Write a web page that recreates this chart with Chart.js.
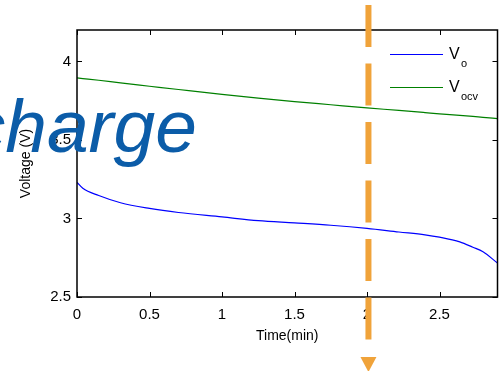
<!DOCTYPE html>
<html>
<head>
<meta charset="utf-8">
<script src="https://cdn.jsdelivr.net/npm/chart.js@4.4.1/dist/chart.umd.min.js"></script>
<style>
  html, body { margin: 0; padding: 0; background: #fff; }
  #wrap { width: 502px; height: 371px; position: relative; }
</style>
</head>
<body>
<div id="wrap"><canvas id="voltChart"></canvas></div>
<script>
// data
const timeMin = [0, 0.04, 0.15, 0.3, 0.5, 0.7, 1, 1.25, 1.5, 1.75, 2, 2.22, 2.4, 2.5, 2.64, 2.73, 2.8, 2.9];
const voltO   = [3.23, 3.192, 3.146, 3.1, 3.064, 3.038, 3.01, 2.986, 2.972, 2.957, 2.937, 2.914, 2.896, 2.881, 2.851, 2.817, 2.788, 2.716];
const voltOcv = [3.895, 3.891, 3.88, 3.863, 3.842, 3.821, 3.79, 3.766, 3.744, 3.724, 3.704, 3.688, 3.674, 3.666, 3.657, 3.65, 3.644, 3.636];
const xTicks = [0, 0.5, 1, 1.5, 2, 2.5];
const yTicks = [2.5, 3, 3.5, 4];

const toPoints = (ys) => timeMin.map((t, i) => ({ x: t, y: ys[i] }));

// box, inward ticks, legend, overlay text and arrow
const extras = {
  id: 'extras',
  afterDraw(chart) {
    const c = chart.ctx;
    const a = chart.chartArea;
    const xs = chart.scales.x, ys = chart.scales.y;
    c.save();
    c.strokeStyle = '#000';
    c.lineWidth = 1.5;
    c.strokeRect(a.left, a.top, a.right - a.left, a.bottom - a.top);
    c.lineWidth = 1;
    c.beginPath();
    xTicks.forEach(v => {
      const px = Math.round(xs.getPixelForValue(v)) + 0.5;
      c.moveTo(px, a.bottom); c.lineTo(px, a.bottom - 5);
      c.moveTo(px, a.top); c.lineTo(px, a.top + 5);
    });
    yTicks.forEach(v => {
      const py = Math.round(ys.getPixelForValue(v)) + 0.5;
      c.moveTo(a.left, py); c.lineTo(a.left + 5, py);
      c.moveTo(a.right, py); c.lineTo(a.right - 5, py);
    });
    c.stroke();

    // legend
    const items = [
      { color: '#0000ff', sub: 'o', y: 54 },
      { color: '#008000', sub: 'ocv', y: 87 }
    ];
    items.forEach(it => {
      c.strokeStyle = it.color;
      c.lineWidth = 1;
      c.beginPath();
      c.moveTo(390, it.y + 0.5); c.lineTo(443, it.y + 0.5);
      c.stroke();
      c.fillStyle = '#000';
      c.textBaseline = 'alphabetic';
      c.textAlign = 'left';
      c.font = '16px "Liberation Sans", Arial, sans-serif';
      c.fillText('V', 449, it.y + 5);
      c.font = '11px "Liberation Sans", Arial, sans-serif';
      c.fillText(it.sub, 461, it.y + 13);
    });

    // big overlay word
    c.fillStyle = '#0b5ca8';
    c.font = 'italic 75px "Liberation Sans", Arial, sans-serif';
    c.textAlign = 'right';
    c.fillText('charge', 197, 152);

    // orange dashed arrow
    const ax = xs.getPixelForValue(2.01);
    c.strokeStyle = '#f0a33a';
    c.lineWidth = 6;
    c.setLineDash([42, 16.5]);
    c.beginPath();
    c.moveTo(ax, 5); c.lineTo(ax, 341);
    c.stroke();
    c.setLineDash([]);
    c.fillStyle = '#f0a33a';
    c.beginPath();
    c.moveTo(ax - 8, 357); c.lineTo(ax + 8, 357); c.lineTo(ax, 372);
    c.closePath();
    c.fill();
    c.restore();
  }
};

const ctx = document.getElementById('voltChart').getContext('2d');
new Chart(ctx, {
  type: 'scatter',
  data: {
    datasets: [
      {
        label: 'Vo',
        data: toPoints(voltO),
        showLine: true,
        borderColor: '#0000ff',
        borderWidth: 1.2,
        pointRadius: 0,
        cubicInterpolationMode: 'monotone'
      },
      {
        label: 'Vocv',
        data: toPoints(voltOcv),
        showLine: true,
        borderColor: '#008000',
        borderWidth: 1.2,
        pointRadius: 0,
        cubicInterpolationMode: 'monotone'
      }
    ]
  },
  options: {
    responsive: true,
    maintainAspectRatio: false,
    animation: false,
    layout: { padding: { top: 30, right: 4.5, left: 0, bottom: 26 } },
    plugins: { legend: { display: false }, tooltip: { enabled: false } },
    scales: {
      x: {
        type: 'linear',
        min: 0,
        max: 2.9,
        afterBuildTicks: (s) => { s.ticks = xTicks.map(v => ({ value: v })); },
        afterFit: (s) => { s.height = 48; },
        grid: { display: true, drawOnChartArea: false, drawTicks: false },
        border: { display: false },
        ticks: {
          padding: 9,
          color: '#000',
          maxRotation: 0,
          callback: (v) => String(v),
          font: { size: 15, family: '"Liberation Sans", Arial, sans-serif' }
        },
        title: {
          display: true,
          text: 'Time(min)',
          color: '#000',
          padding: { top: 4, bottom: 0 },
          font: { size: 14, family: '"Liberation Sans", Arial, sans-serif' }
        }
      },
      y: {
        min: 2.5,
        max: 4.2,
        afterBuildTicks: (s) => { s.ticks = yTicks.map(v => ({ value: v })); },
        afterFit: (s) => { s.width = 77; },
        grid: { display: true, drawOnChartArea: false, drawTicks: false },
        border: { display: false },
        ticks: {
          padding: 6,
          color: '#000',
          callback: (v) => String(v),
          font: { size: 15, family: '"Liberation Sans", Arial, sans-serif' }
        },
        title: {
          display: true,
          text: 'Voltage (V)',
          color: '#000',
          padding: { top: 18, bottom: 0 },
          font: { size: 14, family: '"Liberation Sans", Arial, sans-serif' }
        }
      }
    }
  },
  plugins: [extras]
});
</script>
</body>
</html>
